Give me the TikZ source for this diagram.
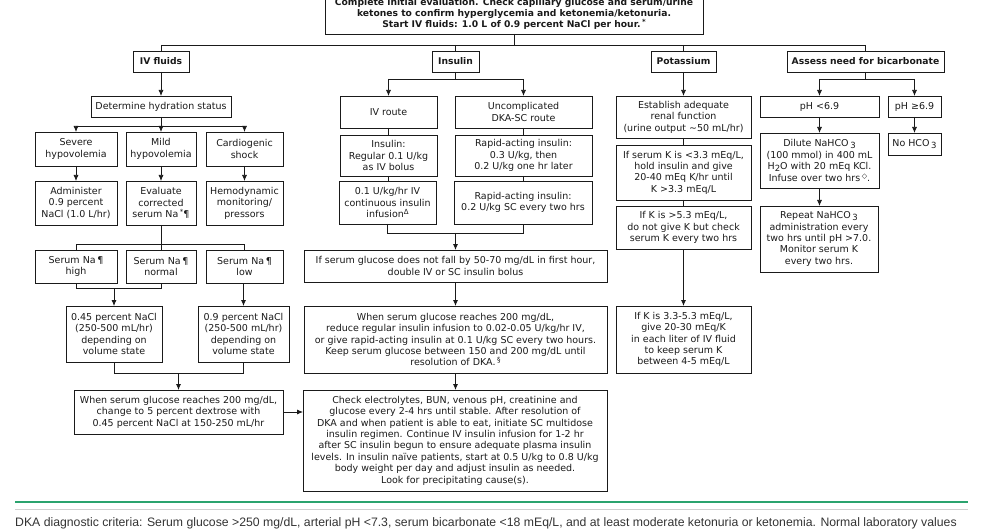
\documentclass[tikz,border=0pt]{standalone}
\usepackage{fontspec}
\setmainfont{DejaVu Sans}
\newfontfamily\footfont{Liberation Sans}
\usetikzlibrary{arrows.meta}
\definecolor{ink}{HTML}{1A1A1A}
\definecolor{fgreen}{HTML}{2BA36E}
\definecolor{fgrey}{HTML}{CFCFCF}
\definecolor{ftext}{HTML}{333333}
\newcommand\bx[7][box]{\node[#1, minimum width={(#5-#3)*1pt}, minimum height={(#6-#4)*1pt}] (#2) at ({(#3+#5)/2},{(#4+#6)/2}) {#7};}
\newcommand\sups[1]{\raisebox{3pt}{\fontsize{7}{0}\selectfont #1}}
\newcommand\subs[1]{\raisebox{-2pt}{\fontsize{8.5}{0}\selectfont #1}}
\begin{document}
\begin{tikzpicture}[x=1pt,y=-1pt,
  box/.style={draw=ink, line width=0.75pt, align=center, inner sep=0pt, outer sep=0pt, text=ink, font=\fontsize{9.5}{11.4}\selectfont},
  hbox/.style={box, font=\bfseries\fontsize{9.2}{11.4}\selectfont},
  ln/.style={draw=ink, line width=0.75pt},
  arr/.style={ln, -{Latex[length=6pt,width=5pt]}}]
\useasboundingbox (0,0) rectangle (1008,529);

% top
\bx[hbox]{top}{325}{-6}{703}{34}{Complete initial evaluation. Check capillary glucose and serum/urine\\ketones to confirm hyperglycemia and ketonemia/ketonuria.\\Start IV fluids: 1.0 L of 0.9 percent NaCl per hour.\,\sups{*}}
\bx[hbox]{ivf}{133}{51}{189}{72}{IV fluids}
\bx[hbox]{ins}{432}{51}{479}{72}{Insulin}
\bx[hbox]{pot}{651}{51}{716}{72}{Potassium}
\bx[hbox]{bic}{787}{51}{944}{72}{Assess need for bicarbonate}

% IV fluids column
\bx{hyd}{91}{96}{231}{117}{Determine hydration status}
\bx{sev}{35}{132}{117}{166}{Severe\\hypovolemia}
\bx{mild}{126}{132}{196}{166}{Mild\\hypovolemia}
\bx{card}{206}{132}{283}{166}{Cardiogenic\\shock}
\bx{adm}{35}{181}{117}{225}{Administer\\0.9 percent\\NaCl (1.0 L/hr)}
\bx{eva}{126}{181}{196}{225}{Evaluate\\corrected\\serum Na\,\sups{*}¶}
\bx{hem}{206}{181}{283}{225}{Hemodynamic\\monitoring/\\pressors}
\bx{nah}{35}{250}{117}{283}{Serum Na\,¶\\high}
\bx{nan}{126}{250}{196}{283}{Serum Na\,¶\\normal}
\bx{nal}{206}{250}{283}{283}{Serum Na\,¶\\low}
\bx{pa}{66}{306}{162}{362}{0.45 percent NaCl\\(250-500 mL/hr)\\depending on\\volume state}
\bx{pb}{198}{306}{289}{362}{0.9 percent NaCl\\(250-500 mL/hr)\\depending on\\volume state}
\bx{dex}{74}{390}{283}{434}{When serum glucose reaches 200 mg/dL,\\change to 5 percent dextrose with\\0.45 percent NaCl at 150-250 mL/hr}

% Insulin column
\bx{ivr}{340}{96}{437}{128}{IV route}
\bx{scr}{455}{96}{592}{128}{Uncomplicated\\DKA-SC route}
\bx{ivb}{340}{135}{437}{176}{Insulin:\\Regular 0.1 U/kg\\as IV bolus}
\bx{scb}{455}{135}{592}{176}{Rapid-acting insulin:\\0.3 U/kg, then\\0.2 U/kg one hr later}
\bx{ivi}{339}{181}{436}{224}{0.1 U/kg/hr IV\\continuous insulin\\infusion\sups{Δ}}
\bx{scc}{454}{181}{592}{224}{Rapid-acting insulin:\\0.2 U/kg SC every two hrs}
\bx{dbl}{304}{250}{607}{282}{If serum glucose does not fall by 50-70 mg/dL in first hour,\\double IV or SC insulin bolus}
\bx{red}{304}{306}{607}{373}{When serum glucose reaches 200 mg/dL,\\reduce regular insulin infusion to 0.02-0.05 U/kg/hr IV,\\or give rapid-acting insulin at 0.1 U/kg SC every two hours.\\Keep serum glucose between 150 and 200 mg/dL until\\resolution of DKA.\,\sups{§}}
\bx{chk}{303}{390}{607}{491}{Check electrolytes, BUN, venous pH, creatinine and\\glucose every 2-4 hrs until stable. After resolution of\\DKA and when patient is able to eat, initiate SC multidose\\insulin regimen. Continue IV insulin infusion for 1-2 hr\\after SC insulin begun to ensure adequate plasma insulin\\levels. In insulin naïve patients, start at 0.5 U/kg to 0.8 U/kg\\body weight per day and adjust insulin as needed.\\Look for precipitating cause(s).}

% Potassium column
\bx{est}{616}{96}{751}{138}{Establish adequate\\renal function\\(urine output \textasciitilde 50 mL/hr)}
\bx{ka}{616}{145}{751}{200}{If serum K is <3.3 mEq/L,\\hold insulin and give\\20-40 mEq K/hr until\\K >3.3 mEq/L}
\bx{kb}{616}{206}{751}{249}{If K is >5.3 mEq/L,\\do not give K but check\\serum K every two hrs}
\bx{kc}{616}{306}{751}{373}{If K is 3.3-5.3 mEq/L,\\give 20-30 mEq/K\\in each liter of IV fluid\\to keep serum K\\between 4-5 mEq/L}

% Bicarbonate column
\bx{pha}{760}{96}{879}{117}{pH <6.9}
\bx{phb}{888}{96}{941}{117}{pH ≥6.9}
\bx{dil}{760}{133}{879}{188}{Dilute NaHCO\,\subs{3}\\(100 mmol) in 400 mL\\H\subs{2}O with 20 mEq KCl.\\Infuse over two hrs\,\sups{◇}.}
\bx{rep}{760}{206}{878}{272}{Repeat NaHCO\,\subs{3}\\administration every\\two hrs until pH >7.0.\\Monitor serum K\\every two hrs.}
\bx{noh}{888}{133}{941}{155}{No HCO\,\subs{3}}

% connectors: top distribution
\coordinate (t1) at (0,45);
\draw[ln] (top.south) -- (top.south |- t1);
\draw[ln] (ivf.north |- t1) -- (bic.north |- t1);
\foreach \n in {ivf,ins,pot,bic} \draw[ln] (\n.north |- t1) -- (\n.north);

% IV fluids
\draw[arr] (ivf.south) -- (ivf.south |- hyd.north);
\coordinate (h1) at (0,126);
\draw[ln] (hyd.south) -- (hyd.south |- h1);
\draw[ln] (sev.north |- h1) -- (card.north |- h1);
\foreach \n in {sev,mild,card} \draw[arr] (\n.north |- h1) -- (\n.north);
\draw[arr] (sev.south) -- (adm.north);
\draw[arr] (mild.south) -- (eva.north);
\draw[arr] (card.south) -- (hem.north);
\coordinate (e1) at (0,244);
\draw[ln] (eva.south) -- (eva.south |- e1);
\draw[ln] (nah.north |- e1) -- (nal.north |- e1);
\foreach \n in {nah,nan,nal} \draw[ln] (\n.north |- e1) -- (\n.north);
\coordinate (m1) at (0,288);
\draw[ln] (nah.south) -- (nah.south |- m1) -- (nan.south |- m1) -- (nan.south);
\draw[arr] (pa.north |- m1) -- (pa.north);
\draw[arr] (pb.north |- nal.south) -- (pb.north);
\coordinate (m2) at (0,373);
\draw[ln] (pa.south) -- (pa.south |- m2) -- (pb.south |- m2) -- (pb.south);
\draw[arr] (dex.north |- m2) -- (dex.north);
\draw[arr] (dex.east) -- (dex.east -| chk.west);

% Insulin
\coordinate (i1) at (0,79);
\draw[ln] (ins.south) -- (ins.south |- i1);
\draw[ln] (ivr.north |- i1) -- (scr.north |- i1);
\draw[arr] (ivr.north |- i1) -- (ivr.north);
\draw[arr] (scr.north |- i1) -- (scr.north);
\draw[ln] (ivr.south) -- (ivr.south |- ivb.north);
\draw[ln] (scr.south) -- (scr.south |- scb.north);
\draw[ln] (ivb.south) -- (ivb.south |- ivi.north);
\draw[ln] (scb.south) -- (scb.south |- scc.north);
\coordinate (i2) at (0,233);
\draw[ln] (ivi.south) -- (ivi.south |- i2) -- (scc.south |- i2) -- (scc.south);
\draw[arr] (dbl.north |- i2) -- (dbl.north);
\draw[arr] (dbl.south) -- (red.north);
\draw[arr] (red.south) -- (red.south |- chk.north);

% Potassium
\draw[arr] (pot.south) -- (pot.south |- est.north);
\draw[ln] (est.south) -- (ka.north);
\draw[ln] (ka.south) -- (kb.north);
\draw[arr] (kb.south) -- (kc.north);

% Bicarbonate
\coordinate (b1) at (0,79);
\draw[ln] (bic.south) -- (bic.south |- b1);
\draw[ln] (pha.north |- b1) -- (phb.north |- b1);
\draw[arr] (pha.north |- b1) -- (pha.north);
\draw[arr] (phb.north |- b1) -- (phb.north);
\draw[arr] (pha.south) -- (dil.north);
\draw[arr] (dil.south) -- (dil.south |- rep.north);
\draw[arr] (phb.south) -- (noh.north);

% footer
\coordinate (g1) at (15,502); \coordinate (g2) at (968,502);
\draw[fgreen, line width=2pt] (g1) -- (g2);
\coordinate (r1) at (15,509); \coordinate (r2) at (968,509);
\draw[fgrey, line width=1pt] (r1) -- (r2);
\node[anchor=west, inner sep=0pt, text=ftext, font=\footfont\fontsize{12.25}{14}\selectfont] (foot) at (15,523) {DKA diagnostic criteria: Serum glucose >250 mg/dL, arterial pH <7.3, serum bicarbonate <18 mEq/L, and at least moderate ketonuria or ketonemia. Normal laboratory values};
\end{tikzpicture}
\end{document}
